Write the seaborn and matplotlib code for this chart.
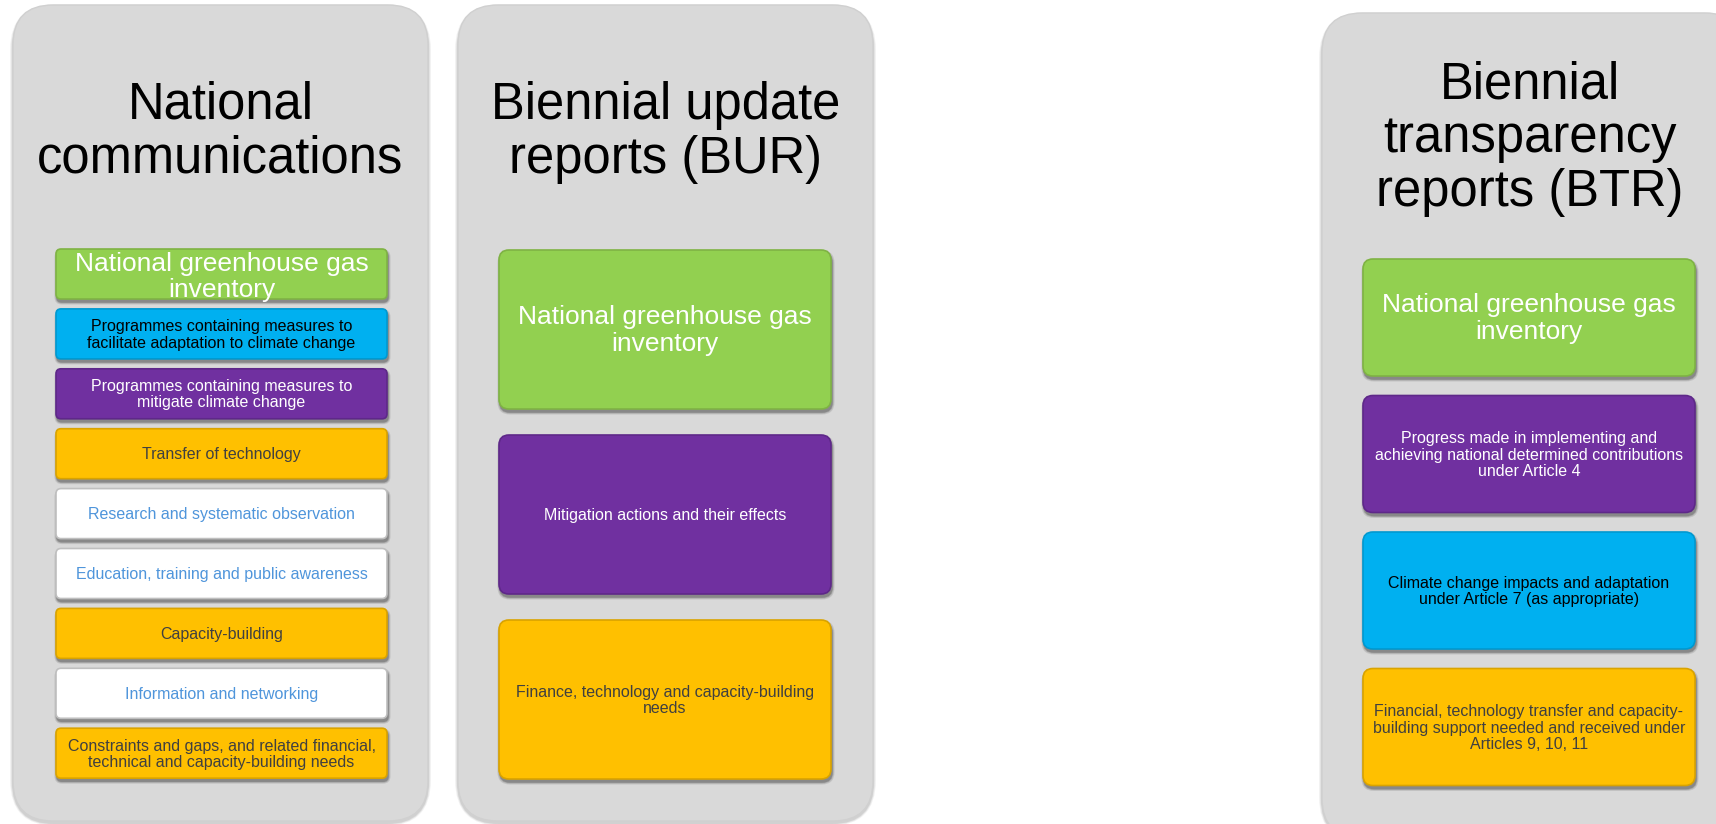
import matplotlib
matplotlib.use("Agg")
import matplotlib.pyplot as plt
from matplotlib.patches import FancyBboxPatch
import seaborn as sns

sns.set_theme(style="white")
plt.rcParams['font.family'] = ['Liberation Sans', 'DejaVu Sans']

# ---------------- content ----------------
panel_titles = [
    "National\ncommunications",
    "Biennial update\nreports (BUR)",
    "Biennial\ntransparency\nreports (BTR)",
]

nc_items = [
    "National greenhouse gas\ninventory",
    "Programmes containing measures to\nfacilitate adaptation to climate change",
    "Programmes containing measures to\nmitigate climate change",
    "Transfer of technology",
    "Research and systematic observation",
    "Education, training and public awareness",
    "Capacity-building",
    "Information and networking",
    "Constraints and gaps, and related financial,\ntechnical and capacity-building needs",
]
nc_kinds = ["green", "blue", "purple", "orange", "white", "white", "orange", "white", "orange"]

bur_items = [
    "National greenhouse gas\ninventory",
    "Mitigation actions and their effects",
    "Finance, technology and capacity-building\nneeds",
]
bur_kinds = ["green", "purple", "orange"]

btr_items = [
    "National greenhouse gas\ninventory",
    "Progress made in implementing and\nachieving national determined contributions\nunder Article 4",
    "Climate change impacts and adaptation\nunder Article 7 (as appropriate)",
    "Financial, technology transfer and capacity-\nbuilding support needed and received under\nArticles 9, 10, 11",
]
btr_kinds = ["green", "purple", "blue", "orange"]

# ---------------- styles ----------------
face = {"green": "#92D050", "blue": "#00B0F0", "purple": "#7030A0",
        "orange": "#FFC000", "white": "#FFFFFF"}
edge = {"green": "#7FB344", "blue": "#0099D0", "purple": "#5E2889",
        "orange": "#D9A300", "white": "#BFBFBF"}
txtc = {"green": "white", "blue": "black", "purple": "white",
        "orange": "#404040", "white": "#4F95DB"}
panel_gray = "#D9D9D9"

# layout (pixels)
W, H = 1716, 824
panels = [
    dict(items=nc_items, kinds=nc_kinds, px0=13, px1=428, py0=5, py1=821,
         bx0=56, bx1=387, by0=249, bh=50, pitch=59.9, brad=5,
         title_base=118, title_cx=220.5, green_dy=3),
    dict(items=bur_items, kinds=bur_kinds, px0=458, px1=873, py0=5, py1=821,
         bx0=499, bx1=831, by0=250, bh=159, pitch=185, brad=10,
         title_base=119, title_cx=665.5, green_dy=1),
    dict(items=btr_items, kinds=btr_kinds, px0=1322, px1=1745, py0=13, py1=838,
         bx0=1363, bx1=1695, by0=259, bh=117, pitch=136.5, brad=10,
         title_base=98, title_cx=1529.5, green_dy=1),
]

fig = plt.figure(figsize=(W / 100, H / 100), dpi=100)
ax = fig.add_axes([0, 0, 1, 1])
ax.set_xlim(0, W)
ax.set_ylim(H, 0)
ax.axis("off")
sns.despine(ax=ax, left=True, bottom=True)

for p, title in zip(panels, panel_titles):
    # panel shadow + panel
    for k, a in [(6, 0.05), (4, 0.06), (2, 0.08)]:
        ax.add_patch(FancyBboxPatch((p["px0"] - k / 2, p["py0"] - k / 2 + 2),
                                    p["px1"] - p["px0"] + k, p["py1"] - p["py0"] + k,
                                    boxstyle="round,pad=0,rounding_size=%d" % (40 + k),
                                    fc="black", ec="none", alpha=a, zorder=1))
    ax.add_patch(FancyBboxPatch((p["px0"], p["py0"]), p["px1"] - p["px0"], p["py1"] - p["py0"],
                                boxstyle="round,pad=0,rounding_size=40",
                                fc=panel_gray, ec="#D0D0D0", lw=1, zorder=2))
    # title
    for i, line in enumerate(title.split("\n")):
        ax.text(p["title_cx"], p["title_base"] + i * 54, line, ha="center", va="baseline",
                fontsize=36.5, color="black", zorder=5)
    # boxes
    bw = p["bx1"] - p["bx0"]
    for j, (label, kind) in enumerate(zip(p["items"], p["kinds"])):
        y = p["by0"] + j * p["pitch"]
        for k, a in [(5, 0.10), (3, 0.14), (1.5, 0.18)]:
            ax.add_patch(FancyBboxPatch((p["bx0"] - k / 2 + 1, y + 3 - k / 2), bw + k, p["bh"] + k,
                                        boxstyle="round,pad=0,rounding_size=%g" % (p["brad"] + k / 2),
                                        fc="black", ec="none", alpha=a, zorder=3))
        ax.add_patch(FancyBboxPatch((p["bx0"], y), bw, p["bh"],
                                    boxstyle="round,pad=0,rounding_size=%g" % p["brad"],
                                    fc=face[kind], ec=edge[kind], lw=1.2, zorder=4))
        if kind == "green":
            fs, ls, dy = 19, 1.12, p["green_dy"]
        else:
            fs, ls, dy = 11.5, 1.1, 1
        ax.text(p["bx0"] + bw / 2, y + p["bh"] / 2 + dy, label, ha="center", va="center",
                multialignment="center", fontsize=fs, color=txtc[kind],
                linespacing=ls, zorder=6)

fig.savefig("out.png", dpi=100)
